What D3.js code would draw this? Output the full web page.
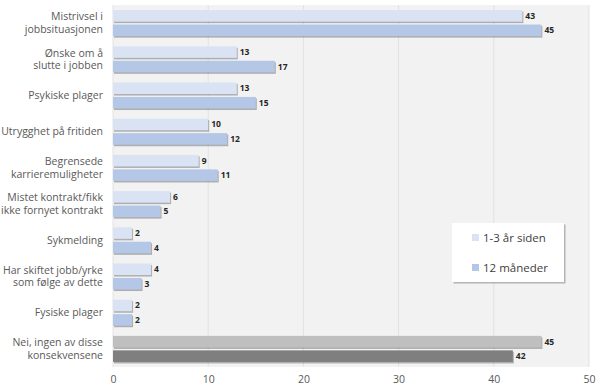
<!DOCTYPE html>
<html><head><meta charset="utf-8">
<script src="https://cdn.jsdelivr.net/npm/d3@7"></script>
<style>body{margin:0;background:#fff}svg{display:block}</style>
</head><body>
<svg id="c" width="600" height="392"></svg>
<script>
const categories = [
  ["Mistrivsel i","jobbsituasjonen"],
  ["Ønske om å","slutte i jobben"],
  ["Psykiske plager"],
  ["Utrygghet på fritiden"],
  ["Begrensede","karrieremuligheter"],
  ["Mistet kontrakt/fikk","ikke fornyet kontrakt"],
  ["Sykmelding"],
  ["Har skiftet jobb/yrke","som følge av dette"],
  ["Fysiske plager"],
  ["Nei, ingen av disse","konsekvensene"]
];
const seriesNames = ["1-3 år siden","12 måneder"];
const valuesPast = [43,13,13,10,9,6,2,4,2,45];
const valuesRecent = [45,17,15,12,11,5,4,3,2,42];
const xTicks = [0,10,20,30,40,50];

const svg = d3.select("#c");
const m = {l:113, r:11, t:5, b:25};
const W = 600, H = 392;
const font = "'Open Sans', sans-serif";

const x = d3.scaleLinear().domain([0,50]).range([m.l, W-m.r]);
const y = d3.scaleBand().domain(d3.range(categories.length)).range([m.t, H-m.b]).paddingInner(0.28).paddingOuter(0.14);
const yi = d3.scaleBand().domain([0,1]).range([0, y.bandwidth()]).paddingInner(0.2);

svg.append("rect").attr("x", m.l).attr("y", m.t).attr("width", x(50)-m.l).attr("height", H-m.b-m.t).attr("fill","#f2f2f2");

svg.append("g").selectAll("line").data(xTicks).join("line")
  .attr("x1", d=>x(d)).attr("x2", d=>x(d)).attr("y1", m.t).attr("y2", H-m.b)
  .attr("stroke", "#e2e2e2").attr("stroke-width",1);

const xAxis = svg.append("g").attr("transform", `translate(0,${H-m.b})`)
  .call(d3.axisBottom(x).tickValues(xTicks).tickSize(0).tickPadding(9));
xAxis.select(".domain").remove();
xAxis.selectAll("text").attr("font-family", font).attr("font-size", 10.5).attr("fill", "#595959");

const colors = [["#dae3f3","#b4c7e7"],["#bfbfbf","#7f7f7f"]];
const data = [];
categories.forEach((c,i)=>{
  [valuesPast[i], valuesRecent[i]].forEach((v,s)=>{
    data.push({i, s, v, col: colors[i===categories.length-1?1:0][s]});
  });
});

const bars = svg.append("g");
// shadow
bars.selectAll("rect.sh").data(data).join("rect").attr("class","sh")
  .attr("x", x(0)+1).attr("y", d=>y(d.i)+yi(d.s)+1.5)
  .attr("width", d=>x(d.v)-x(0)).attr("height", yi.bandwidth())
  .attr("fill", "#000").attr("opacity", 0.28);
bars.selectAll("rect.b").data(data).join("rect").attr("class","b")
  .attr("x", x(0)).attr("y", d=>y(d.i)+yi(d.s))
  .attr("width", d=>x(d.v)-x(0)).attr("height", yi.bandwidth())
  .attr("fill", d=>d.col);

svg.append("g").selectAll("text").data(data).join("text")
  .attr("x", d=>x(d.v)+3).attr("y", d=>y(d.i)+yi(d.s)+yi.bandwidth()/2)
  .attr("dy","0.35em").attr("font-family", font).attr("font-size", 8.5).attr("font-weight","bold")
  .attr("fill","#262626").text(d=>d.v);

const cl = svg.append("g").selectAll("text").data(categories).join("text")
  .attr("x", 103).attr("text-anchor","end")
  .attr("font-family", font).attr("font-size", 10.5).attr("fill","#595959")
  .attr("y", (d,i)=>y(i)+y.bandwidth()/2);
cl.each(function(d){
  const t = d3.select(this);
  const n = d.length;
  d.forEach((line,k)=>{
    t.append("tspan").attr("x",103).attr("dy", k===0 ? ((0.35 - (n-1)*0.6)+"em") : "1.2em").text(line);
  });
});

// legend
const lg = svg.append("g").attr("transform","translate(452,223)");
lg.append("rect").attr("x",1.5).attr("y",1.5).attr("width",112).attr("height",59).attr("fill","#000").attr("opacity",0.25);
lg.append("rect").attr("width",112).attr("height",59).attr("fill","#fff");
seriesNames.forEach((s,k)=>{
  lg.append("rect").attr("x",20).attr("y",11+k*30).attr("width",7).attr("height",7).attr("fill",colors[0][k]);
  lg.append("text").attr("x",31).attr("y",15+k*30).attr("dy","0.35em")
    .attr("font-family",font).attr("font-size",11.5).attr("fill","#404040").text(s);
});
</script>
</body></html>
